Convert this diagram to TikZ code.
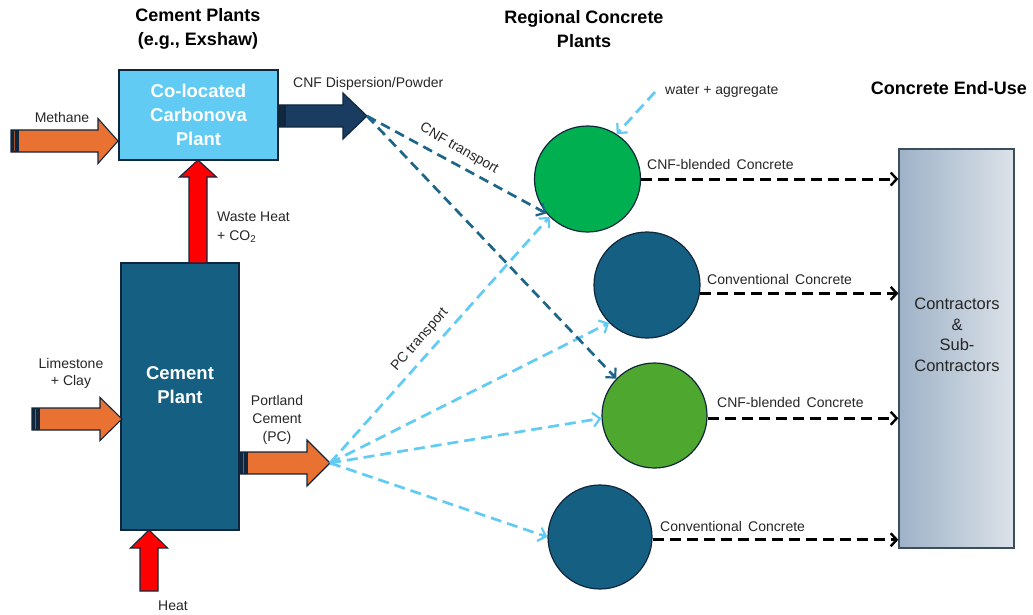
\documentclass[tikz,border=0pt]{standalone}
\usepackage{fontspec}
\setmainfont{Liberation Sans}
\usetikzlibrary{arrows.meta,calc}

\definecolor{lblue}{HTML}{61CBF3}
\definecolor{dteal}{HTML}{156082}
\definecolor{navyarrow}{HTML}{1A3C60}
\definecolor{orng}{HTML}{E97132}
\definecolor{greenA}{HTML}{00B050}
\definecolor{greenB}{HTML}{4EA72E}
\definecolor{edgecol}{HTML}{10263C}
\definecolor{txt}{HTML}{262626}
\definecolor{cnfline}{HTML}{1E6689}
\definecolor{euleft}{RGB}{158,178,199}
\definecolor{euright}{RGB}{220,226,233}
\definecolor{euedge}{RGB}{58,78,94}

% horizontal block arrow: tail x, tip x, mid y, half body, half head, head length, fill
\newcommand\blockarrowH[7]{%
  \filldraw[fill=#7, draw=edgecol, line width=1.1pt, line join=miter]
    (#1,{#3-#4}) -- ({#2-#6},{#3-#4}) -- ({#2-#6},{#3-#5}) -- (#2,#3)
    -- ({#2-#6},{#3+#5}) -- ({#2-#6},{#3+#4}) -- (#1,{#3+#4}) -- cycle;
  \fill[edgecol] (#1,{#3-#4}) rectangle ({#1+7.5},{#3+#4});
  \fill[#7!70!black] ({#1+3},{#3-#4+1}) rectangle ({#1+4.2},{#3+#4-1});}
% upward block arrow: centre x, tip y, bottom y, half body, half head, head length, fill
\newcommand\blockarrowV[7]{%
  \filldraw[fill=#7, draw=edgecol, line width=1.1pt, line join=miter]
    ({#1-#4},#3) -- ({#1-#4},{#2+#6}) -- ({#1-#5},{#2+#6}) -- (#1,#2)
    -- ({#1+#5},{#2+#6}) -- ({#1+#4},{#2+#6}) -- ({#1+#4},#3) -- cycle;}

\begin{document}
\begin{tikzpicture}[x=1pt,y=-1pt,
  plantbox/.style={draw=edgecol, line width=1.3pt, inner sep=0pt},
  circ/.style={circle, draw=edgecol, line width=1.2pt, inner sep=0pt},
  lbl/.style={font=\fontsize{14}{18}\selectfont, text=txt, align=center, inner sep=0pt},
  title/.style={font=\bfseries\fontsize{18}{24}\selectfont, text=black, align=center, inner sep=0pt},
  bigw/.style={font=\bfseries\fontsize{18.5}{24}\selectfont, text=white, align=center, inner sep=0pt},
  pcline/.style={draw=lblue, line width=2.7pt, dash pattern=on 11pt off 6pt,
    -{Straight Barb[length=7pt,width=14pt,line width=2.2pt]}},
  cnfflow/.style={draw=cnfline, line width=2.7pt, dash pattern=on 10pt off 6pt,
    -{Straight Barb[length=7pt,width=14pt,line width=2.2pt]}},
  outflow/.style={draw=black, line width=3pt, dash pattern=on 11pt off 6pt,
    -{Straight Barb[length=6pt,width=13pt,line width=2.4pt]}}
]
\useasboundingbox (0,0) rectangle (1033,615);

% column headings
\node[title] (t1) at (198,29) {Cement Plants\\(e.g., Exshaw)};
\node[title] (t2) at (584,29) {Regional Concrete\\Plants};
\node[title] (t3) at (949,88) {Concrete End-Use};

% plants
\node[plantbox, fill=lblue, minimum width=159pt, minimum height=90pt, bigw] (carb) at (198.5,115) {Co-located\\Carbonova\\Plant};
\node[plantbox, fill=dteal, minimum width=118pt, minimum height=267pt] (cem) at (180,396.5) {};
\node[bigw] (cemtxt) at (180,385) {Cement\\Plant};

% end use
\node[draw=euedge, line width=1.3pt, left color=euleft, right color=euright,
      minimum width=115pt, minimum height=399pt, inner sep=0pt] (eu) at (956.5,348.5) {};
\node[font=\fontsize{16.5}{20.5}\selectfont, text=txt, align=center, inner sep=0pt] (eutxt) at (957,335) {Contractors\\\&\\Sub-\\Contractors};

% regional concrete plants
\node[circ, fill=greenA, minimum size=106pt] (c1) at (587.5,179) {};
\node[circ, fill=dteal, minimum size=106pt] (c2) at (647,285) {};
\node[circ, fill=greenB, minimum size=105pt] (c3) at (654.5,415.5) {};
\node[circ, fill=dteal, minimum size=104pt] (c4) at (600,537) {};

% material flows (block arrows)
\blockarrowH{11}{118}{141}{11}{22.5}{20}{orng}
\blockarrowH{32}{122}{419}{11}{21.5}{22}{orng}
\blockarrowH{240}{330}{463}{11}{23}{23}{orng}
\blockarrowH{278}{367}{116}{11}{23}{24}{navyarrow}
\blockarrowV{198}{160}{263}{9}{18.5}{17}{red}
\blockarrowV{149}{530}{591}{9}{18.5}{18}{red}

\coordinate (pctip) at (330,463);
\coordinate (cnftip) at (367,116);
\coordinate (wtr) at (655,92);

% transport links
\draw[pcline] (pctip) -- (c1.225);
\draw[pcline] (pctip) -- (c2.225);
\draw[pcline] (pctip) -- (c3.183);
\draw[pcline] (pctip) -- (c4.west);
\draw[cnfflow] (cnftip) -- (c1.220);
\draw[cnfflow] (cnftip) -- (c3.136);
\draw[pcline] (wtr) -- (c1.57);

% deliveries to end use
\draw[outflow] (c1.east) -- (c1.east -| eu.west);
\draw[outflow] (c2.-9) -- (c2.-9 -| eu.west);
\draw[outflow] (c3.-3) -- (c3.-3 -| eu.west);
\draw[outflow] (c4.-3) -- (c4.-3 -| eu.west);

% labels
\node[lbl] (lmeth) at (62,117) {Methane};
\node[lbl, font=\fontsize{14}{17.5}\selectfont] (llime) at (71,373.5) {Limestone\\+ Clay};
\node[lbl] (lpc) at (277,420) {Portland\\Cement\\(PC)};
\node[lbl, align=left, anchor=west, font=\fontsize{14}{19}\selectfont] (lwaste) at (217,227.5) {Waste Heat\\+ CO\textsubscript{2}};
\node[lbl] (lheat) at (173,606) {Heat};
\node[lbl, anchor=west] (lcnfd) at (293,84) {CNF Dispersion/Powder};
\node[lbl, anchor=west] (lwater) at (665,91) {water + aggregate};
\node[lbl, rotate=-30] (lcnft) at (459,149) {CNF transport};
\node[lbl, rotate=49] (lpct) at (420,340) {PC transport};
\node[lbl, anchor=west] (l1) at (647,164) {CNF-blended\hspace{0.45em}Concrete};
\node[lbl, anchor=west] (l2) at (707,279) {Conventional\hspace{0.45em}Concrete};
\node[lbl, anchor=west] (l3) at (717,402) {CNF-blended\hspace{0.45em}Concrete};
\node[lbl, anchor=west] (l4) at (660,526) {Conventional\hspace{0.45em}Concrete};
\end{tikzpicture}
\end{document}
